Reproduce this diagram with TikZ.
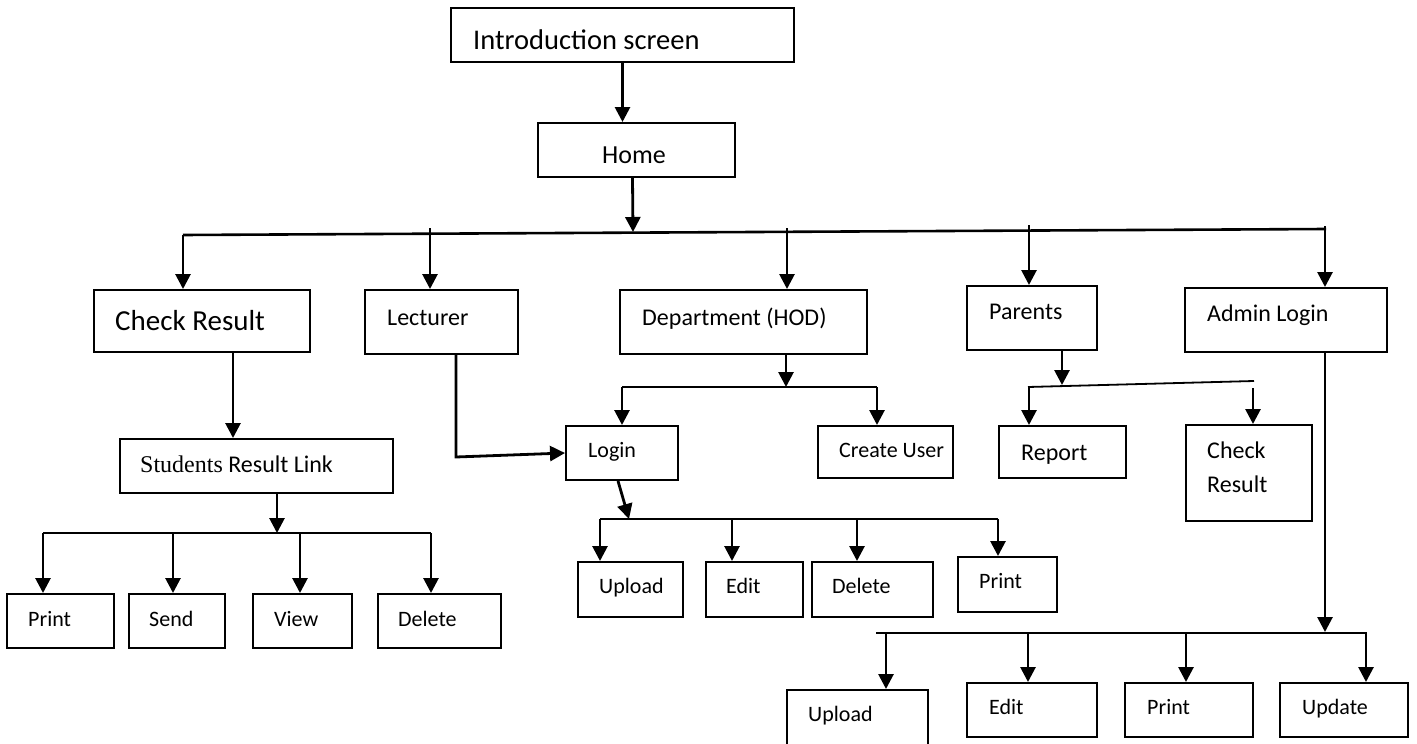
\documentclass[tikz,border=0pt]{standalone}
\usepackage{fontspec}
\setmainfont{Carlito}
\newfontfamily\serifface{Liberation Serif}
\usetikzlibrary{arrows.meta,fit}
\begin{document}
\begin{tikzpicture}[x=1pt,y=-1pt,
  box/.style={draw,line width=2pt,inner sep=0pt},
  lbl/.style={anchor=base west,inner sep=0pt,font=\fontsize{22}{26}\selectfont},
  mid/.style={lbl,font=\fontsize{24}{28}\selectfont},
  large/.style={lbl,font=\fontsize{26}{30}\selectfont},
  huge/.style={lbl,font=\fontsize{28.5}{34}\selectfont},
  arr/.style={line width=2.8pt,-{Triangle[length=15pt,width=15pt]}},
  wire/.style={line width=2.6pt},
  thinwire/.style={line width=1.8pt},
]
\useasboundingbox (0,0) rectangle (1417,744);

% ---------- boxes ----------
\node[box,fit={(451,8) (794,62)}]      (intro) {};
\node[box,fit={(538,123) (735,177)}]   (home) {};
\node[box,fit={(94,290) (310,352)}]    (chk) {};
\node[box,fit={(365,290) (518,354)}]   (lec) {};
\node[box,fit={(620,290) (867,354)}]   (dept) {};
\node[box,fit={(967,286) (1097,350)}]  (par) {};
\node[box,fit={(1185,288) (1387,352)}] (adm) {};
\node[box,fit={(120,439) (393,493)}]   (stu) {};
\node[box,fit={(7,594) (114,648)}]     (pA) {};
\node[box,fit={(129,594) (225,648)}]   (pB) {};
\node[box,fit={(253,594) (352,648)}]   (pC) {};
\node[box,fit={(378,594) (501,648)}]   (pD) {};
\node[box,fit={(566,426) (678,480)}]   (login) {};
\node[box,fit={(818,426) (953,478)}]   (cuser) {};
\node[box,fit={(999,426) (1126,478)}]  (report) {};
\node[box,fit={(1186,425) (1312,521)}] (chk2) {};
\node[box,fit={(578,562) (683,617)}]   (lA) {};
\node[box,fit={(706,562) (803,617)}]   (lB) {};
\node[box,fit={(812,562) (933,617)}]   (lC) {};
\node[box,fit={(958,557) (1057,612)}]  (lD) {};
\node[box,fit={(787,690) (928,756)}]   (aA) {};
\node[box,fit={(967,683) (1097,737)}]  (aB) {};
\node[box,fit={(1125,683) (1253,737)}] (aC) {};
\node[box,fit={(1280,683) (1408,737)}] (aD) {};

% ---------- labels ----------
\node[huge]  at (473,49)  {Introduction screen};
\node[large] at (602,163) {Home};
\node[lbl,font=\fontsize{29}{34}\selectfont] at (115,330) {Check Result};
\node[mid]   at (387,325) {Lecturer};
\node[mid]   at (642,325) {Department (HOD)};
\node[mid]   at (989,319) {Parents};
\node[mid]   at (1207,321) {Admin Login};
\node[mid]   at (140,472) {{\serifface Students} Result Link};
\node[lbl]   at (28,626)  {Print};
\node[lbl]   at (149,626) {Send};
\node[lbl]   at (274,626) {View};
\node[lbl]   at (398,626) {Delete};
\node[lbl]   at (588,457) {Login};
\node[lbl]   at (839,457) {Create User};
\node[mid]   at (1021,460) {Report};
\node[mid]   at (1207,458) {Check};
\node[mid]   at (1207,492) {Result};
\node[lbl]   at (599,593) {Upload};
\node[lbl]   at (726,593) {Edit};
\node[lbl]   at (832,593) {Delete};
\node[lbl]   at (979,588) {Print};
\node[lbl]   at (808,721) {Upload};
\node[lbl]   at (989,714) {Edit};
\node[lbl]   at (1147,714) {Print};
\node[lbl]   at (1302,714) {Update};

% ---------- top chain ----------
\draw[arr] (intro.south) -- (intro.south |- home.north);
\coordinate (hb) at (633,232);
\draw[arr] ([xshift=-4pt]home.south) -- (hb);

% main distribution line
\coordinate (mL) at (183,235);
\coordinate (mR) at (1326,229);
\draw[wire] (mL) -- (mR);
\draw[arr] (mL) -- (mL |- chk.north);
\coordinate (tLec) at (430,228);
\draw[arr] (tLec) -- (tLec |- lec.north);
\coordinate (tDep) at (787,228);
\draw[arr] (tDep) -- (tDep |- dept.north);
\coordinate (tPar) at (1029,225);
\draw[arr] (tPar) -- (tPar |- par.north);
\coordinate (tAdm) at (1325,226);
\draw[arr] (tAdm) -- (tAdm |- adm.north);

% ---------- Check Result branch ----------
\coordinate (xCS) at (233,0);
\draw[arr] (chk.south -| xCS) -- (stu.north -| xCS);
\coordinate (sb) at (277,533);
\draw[arr] (stu.south -| sb) -- (sb);
\draw[wire] (43,533) -- (431,533);
\foreach \n/\x in {pA/43,pB/173,pC/300,pD/431}{
  \coordinate (t) at (\x,533);
  \draw[arr] (t) -- (t |- \n.north);
}

% ---------- Lecturer to Login ----------
\coordinate (lk) at (456,457);
\draw[arr] (lec.south -| lk) -- (lk) -- (login.west);

% ---------- Department branch ----------
\coordinate (db) at (786,387);
\draw[arr] (dept.south -| db) -- (db);
\draw[wire] (622,387) -- (877,387);
\coordinate (dl) at (622,387);
\draw[arr] (dl) -- (dl |- login.north);
\coordinate (dr) at (877,387);
\draw[arr] (dr) -- (dr |- cuser.north);

% Login actions
\coordinate (lb) at (629,519);
\draw[arr] ([xshift=-4pt]login.south) -- (lb);
\draw[wire] (600,519) -- (998,519);
\foreach \n/\x in {lA/600,lB/732,lC/857,lD/998}{
  \coordinate (t) at (\x,519);
  \draw[arr] (t) -- (t |- \n.north);
}

% ---------- Parents branch ----------
\coordinate (pb) at (1062,385);
\draw[arr] (par.south -| pb) -- (pb);
\draw[thinwire] (1028,387) -- (1254,381);
\coordinate (pl) at (1029,387);
\draw[arr] (pl) -- (pl |- report.north);
\coordinate (pr) at (1253,388);
\draw[arr] (pr) -- (pr |- chk2.north);

% ---------- Admin branch ----------
\coordinate (ab) at (1325,632);
\draw[arr] (adm.south -| ab) -- (ab);
\draw[wire] (876,633) -- (1367,633);
\foreach \n/\x in {aA/886,aB/1028,aC/1186,aD/1366}{
  \coordinate (t) at (\x,633);
  \draw[arr] (t) -- (t |- \n.north);
}
\end{tikzpicture}
\end{document}
